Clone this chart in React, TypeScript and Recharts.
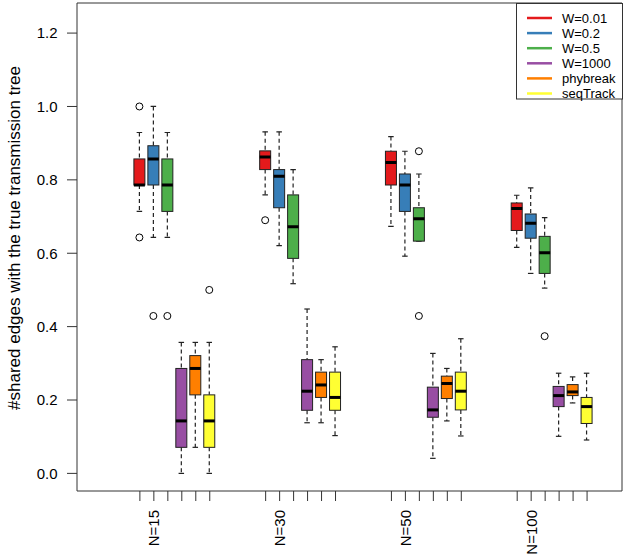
import { BarChart, Bar, XAxis, YAxis, ReferenceArea, Legend, Label } from "recharts";

const groups = ["N=15", "N=30", "N=50", "N=100"];
const methods = ["W=0.01", "W=0.2", "W=0.5", "W=1000", "phybreak", "seqTrack"];
const COLORS = ["#E41A1C", "#377EB8", "#4DAF4A", "#984EA3", "#FF7F00", "#FFFF33"];

// one row per group, one column per method
const whiskerLow = [
    [0.714, 0.643, 0.643, 0.0, 0.071, 0.0],
    [0.759, 0.621, 0.517, 0.138, 0.138, 0.103],
    [0.673, 0.592, 0.633, 0.041, 0.143, 0.102],
    [0.616, 0.545, 0.505, 0.101, 0.192, 0.091],
];
const lowerQuartile = [
    [0.786, 0.786, 0.714, 0.071, 0.214, 0.071],
    [0.828, 0.724, 0.586, 0.172, 0.207, 0.172],
    [0.786, 0.714, 0.633, 0.153, 0.204, 0.173],
    [0.662, 0.641, 0.545, 0.182, 0.212, 0.136],
];
const medians = [
    [0.786, 0.857, 0.786, 0.143, 0.286, 0.143],
    [0.862, 0.81, 0.672, 0.224, 0.241, 0.207],
    [0.847, 0.786, 0.694, 0.173, 0.245, 0.224],
    [0.722, 0.682, 0.601, 0.212, 0.222, 0.182],
];
const upperQuartile = [
    [0.857, 0.893, 0.857, 0.286, 0.321, 0.214],
    [0.879, 0.828, 0.759, 0.31, 0.276, 0.276],
    [0.878, 0.816, 0.724, 0.235, 0.265, 0.276],
    [0.737, 0.707, 0.646, 0.237, 0.242, 0.207],
];
const whiskerHigh = [
    [0.929, 1.0, 0.929, 0.357, 0.357, 0.357],
    [0.931, 0.931, 0.828, 0.448, 0.31, 0.345],
    [0.918, 0.878, 0.816, 0.327, 0.286, 0.367],
    [0.758, 0.778, 0.697, 0.273, 0.263, 0.273],
];
const outliers = [
    [[1.0, 0.643], [0.429], [0.429], [], [], [0.5]],
    [[0.69], [], [], [], [], []],
    [[], [], [0.878, 0.429], [], [], []],
    [[], [], [0.374], [], [], []],
];
const yTicks = [0, 0.2, 0.4, 0.6, 0.8, 1.0, 1.2];
const yTitle = "#shared edges with the true transmission tree";

// slot layout on the x axis: boxes at 1..6, 10..15, 19..24, 28..33
const firstSlot = -3;
const lastSlot = 35;
const groupStride = 9;

const rows = [];
for (let p = firstSlot; p <= lastSlot; p++) {
    rows.push({ slot: "s" + p });
}
groups.forEach((g, gi) => {
    methods.forEach((m, mi) => {
        const p = 1 + gi * groupStride + mi;
        const row = rows[p - firstSlot];
        Object.assign(row, {
            box: true,
            label: mi === 1 ? g : null,
            color: COLORS[mi],
            lo: whiskerLow[gi][mi],
            q1: lowerQuartile[gi][mi],
            med: medians[gi][mi],
            q3: upperQuartile[gi][mi],
            hi: whiskerHigh[gi][mi],
            out: outliers[gi][mi],
            range: [whiskerLow[gi][mi], whiskerHigh[gi][mi]],
        });
    });
});
const rowBySlot = Object.fromEntries(rows.map((r) => [r.slot, r]));

const FONT = "'Liberation Sans', Arial, sans-serif";
const EDGE = "#333";

const BoxShape = (props) => {
    const { x, y, width, height } = props;
    const d = props.payload || props;
    if (d.lo == null || !height) return null;
    const ppu = height / (d.hi - d.lo);
    const py = (v) => y + (d.hi - v) * ppu;
    const cx = x + width / 2;
    const cap = width / 4;
    return (
        <g>
            <line x1={cx} x2={cx} y1={py(d.hi)} y2={py(d.q3)} stroke="#222" strokeWidth={1.2} strokeDasharray="4 3"/>
            <line x1={cx} x2={cx} y1={py(d.q1)} y2={py(d.lo)} stroke="#222" strokeWidth={1.2} strokeDasharray="4 3"/>
            <line x1={cx - cap} x2={cx + cap} y1={py(d.hi)} y2={py(d.hi)} stroke="#222" strokeWidth={1.2}/>
            <line x1={cx - cap} x2={cx + cap} y1={py(d.lo)} y2={py(d.lo)} stroke="#222" strokeWidth={1.2}/>
            <rect x={x} y={py(d.q3)} width={width} height={py(d.q1) - py(d.q3)} fill={d.color} stroke="#222"/>
            <line x1={x} x2={x + width} y1={py(d.med)} y2={py(d.med)} stroke="#000" strokeWidth={3}/>
            {d.out.map((v, i) => (
                <circle key={i} cx={cx} cy={py(v)} r={3.5} fill="none" stroke="#000"/>
            ))}
        </g>
    );
};

const XTick = ({ x, y, payload }) => {
    const row = rowBySlot[payload.value];
    if (!row || !row.box) return null;
    return (
        <g>
            <line x1={x} x2={x} y1={y} y2={y + 10} stroke={EDGE}/>
            {row.label && (
                <text
                    x={x + 5.5}
                    y={y + 19}
                    transform={`rotate(-90 ${x + 5.5} ${y + 19})`}
                    textAnchor="end"
                    fontSize={15}
                    fontFamily={FONT}
                    fill="#000"
                >
                    {row.label}
                </text>
            )}
        </g>
    );
};

const LegendBox = () => (
    <svg width={107} height={97} style={{ display: "block", overflow: "visible" }}>
        <rect x={0.5} y={0.5} width={106} height={95.5} fill="#fff" stroke={EDGE}/>
        {methods.map((m, i) => (
            <g key={m}>
                <line x1={11} x2={36} y1={15 + i * 15.1} y2={15 + i * 15.1} stroke={COLORS[i]} strokeWidth={2.5}/>
                <text x={46} y={15 + i * 15.1} dy="0.35em" fontSize={13} fontFamily={FONT} fill="#000">
                    {m}
                </text>
            </g>
        ))}
    </svg>
);

export default function App() {
    return (
        <div style={{ position: "absolute", left: 0, top: 0, fontFamily: FONT }}>
            <BarChart width={625} height={558} data={rows} margin={{ top: 3, right: 3, bottom: 0, left: 11 }}>
                <ReferenceArea y1={-0.048} y2={1.282} fill="none" stroke={EDGE} ifOverflow="visible"/>
                <XAxis
                    dataKey="slot"
                    height={67}
                    interval={0}
                    tickLine={false}
                    axisLine={false}
                    tickSize={0}
                    tickMargin={0}
                    tick={<XTick/>}
                />
                <YAxis
                    type="number"
                    domain={[-0.048, 1.282]}
                    allowDataOverflow
                    ticks={yTicks}
                    tickFormatter={(v) => v.toFixed(1)}
                    width={66}
                    tickSize={10}
                    tickMargin={9.5}
                    axisLine={false}
                    tickLine={{ stroke: EDGE }}
                    tick={{ fill: "#000", fontSize: 15, fontFamily: FONT }}
                >
                    <Label
                        content={({ viewBox }) => {
                            const cy = viewBox.y + viewBox.height / 2 - 9;
                            return (
                                <text
                                    x={20}
                                    y={cy}
                                    transform={`rotate(-90 20 ${cy})`}
                                    textAnchor="middle"
                                    fontSize={17}
                                    fontFamily={FONT}
                                    fill="#000"
                                >
                                    {yTitle}
                                </text>
                            );
                        }}
                    />
                </YAxis>
                <Bar dataKey="range" barSize={11} shape={<BoxShape/>} isAnimationActive={false}/>
                <Legend
                    layout="horizontal"
                    verticalAlign="middle"
                    align="center"
                    content={() => <LegendBox/>}
                    wrapperStyle={{ position: "absolute", top: 3, left: 516, lineHeight: 0, overflow: "visible" }}
                />
            </BarChart>
        </div>
    );
}
